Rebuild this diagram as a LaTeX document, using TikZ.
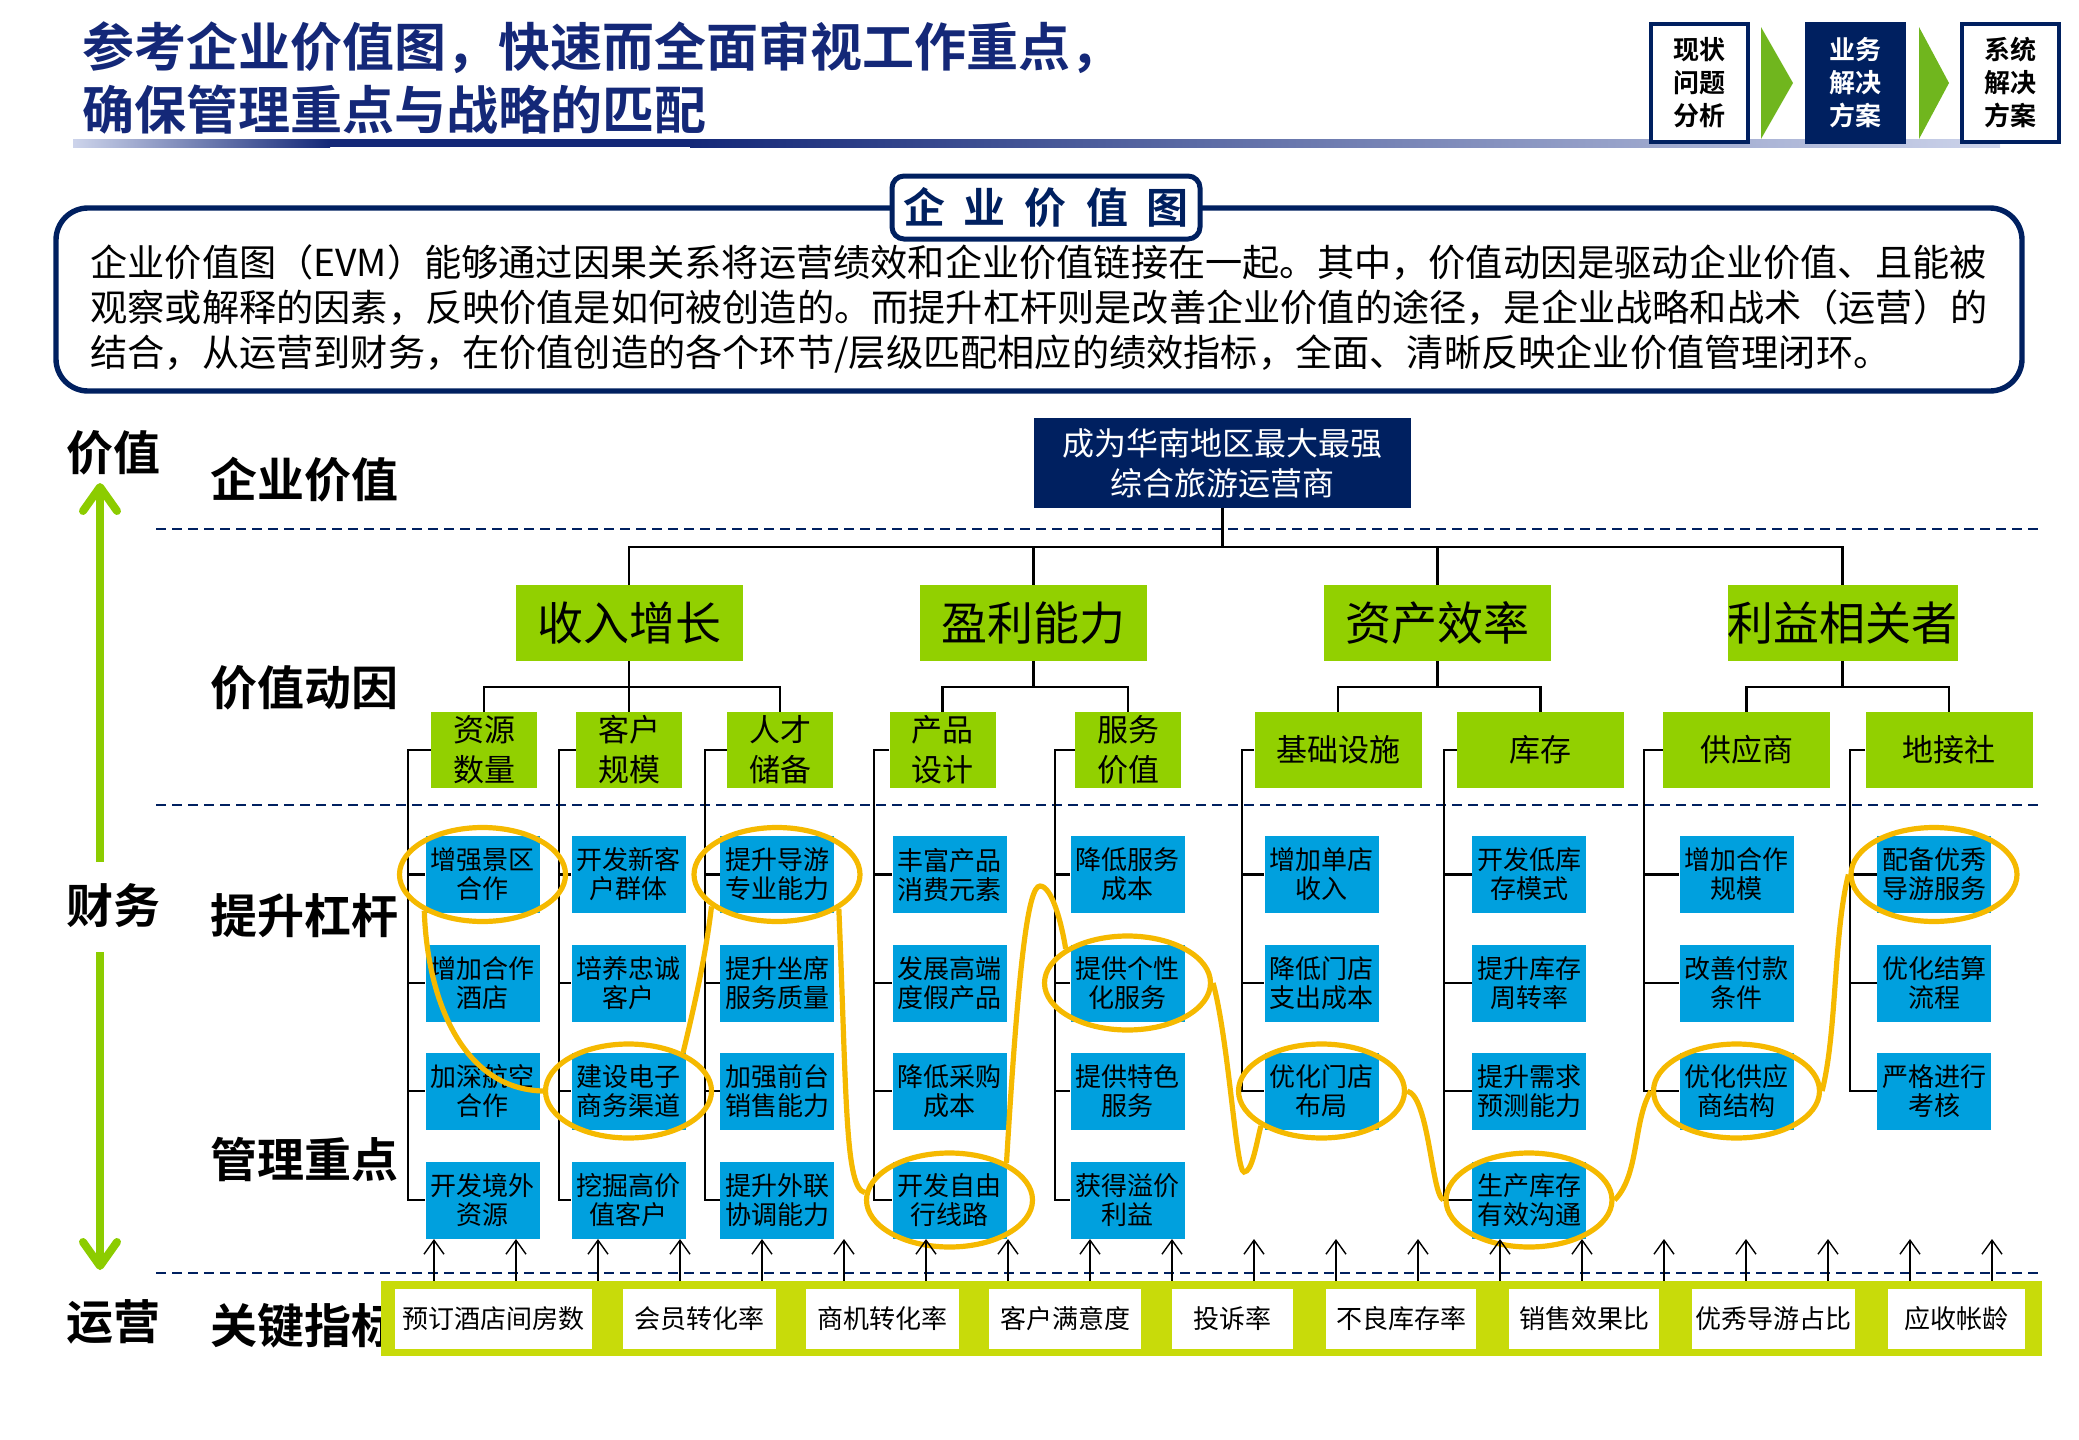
\documentclass[tikz,border=0pt]{standalone}
\usepackage{fontspec}
\setmainfont{Noto Sans CJK SC}[BoldFont={Noto Sans CJK SC Bold}]
\usetikzlibrary{arrows.meta,shapes.geometric,calc}
\definecolor{evmnavy}{RGB}{0,32,96}
\definecolor{evmtitle}{RGB}{20,40,120}
\definecolor{evmfade}{RGB}{205,212,235}
\definecolor{evmgreen}{RGB}{146,208,0}
\definecolor{evmlime}{RGB}{140,204,0}
\definecolor{evmchev}{RGB}{112,182,30}
\definecolor{evmbar}{RGB}{200,219,10}
\definecolor{evmblue}{RGB}{0,160,222}
\definecolor{evmgold}{RGB}{245,185,0}

\begin{document}
\begin{tikzpicture}[x=0.5pt, y=-0.5pt,
  headline/.style={font=\bfseries\fontsize{26pt}{31.5pt}\selectfont, text=evmtitle, align=left, anchor=west, inner sep=0pt},
  badge/.style={draw=evmnavy, line width=2pt, minimum width=48.5pt, minimum height=59pt, inner sep=0pt, align=center, font=\bfseries\fontsize{13pt}{16.5pt}\selectfont},
  rowlabel/.style={font=\bfseries\fontsize{23.5pt}{28pt}\selectfont, inner sep=0pt},
  goalbox/.style={fill=evmnavy, text=white, minimum width=188.5pt, minimum height=45pt, align=center, font=\fontsize{16pt}{20pt}\selectfont},
  driver/.style={fill=evmgreen, minimum width=113.5pt, minimum height=38pt, inner sep=0pt, font=\fontsize{23pt}{28pt}\selectfont},
  subdriver/.style={fill=evmgreen, minimum width=53pt, minimum height=38pt, inner sep=0pt, align=center, font=\fontsize{15.5pt}{20pt}\selectfont},
  widedriver/.style={subdriver, minimum width=83.5pt},
  lever/.style={fill=evmblue, minimum width=57pt, minimum height=38.5pt, inner sep=0pt, align=center, font=\fontsize{13pt}{14.5pt}\selectfont},
  kpi/.style={fill=white, minimum height=30pt, inner sep=0pt, font=\fontsize{13pt}{16pt}\selectfont},
  pick/.style={ellipse, draw=evmgold, line width=2.6pt, minimum width=83pt, minimum height=47pt, inner sep=0pt},
  wave/.style={draw=evmgold, line width=2.6pt},
  treeline/.style={draw=black, line width=1.1pt},
  dashrule/.style={draw=evmnavy, line width=1.2pt, dash pattern=on 5pt off 3pt},
  finarrow/.style={draw=evmlime, line width=4pt, -{Straight Barb[length=12pt,width=17pt,round]}},
  kpiarrow/.style={line width=0.7pt, -{Straight Barb[length=7pt,width=10pt]}}
]
\useasboundingbox (0,0) rectangle (2079,1440);

% title and steps
\node[headline] (title) at (82,77.5) {参考企业价值图，快速而全面审视工作重点，\\确保管理重点与战略的匹配};
\shade[left color=evmfade, right color=evmtitle] (73,139) rectangle (330,147);
\fill[evmtitle] (330,139) rectangle (690,147);
\shade[left color=evmtitle, right color=evmfade] (690,139) rectangle (2000,147);
\node[badge, fill=white] (step1) at (1699.5,83) {现状\\问题\\分析};
\node[badge, fill=evmnavy, text=white] (step2) at (1855.5,83) {业务\\解决\\方案};
\node[badge, fill=white] (step3) at (2010,83) {系统\\解决\\方案};
\fill[evmchev] (1761,27) -- (1793,83) -- (1761,139) -- cycle;
\fill[evmchev] (1919,27) -- (1949,83) -- (1919,139) -- cycle;

% definition box
\draw[evmnavy, line width=2.7pt, rounded corners=16pt] (56,208) rectangle (2022,391);
\node[draw=evmnavy, line width=2.5pt, fill=white, rounded corners=6pt, minimum width=154pt, minimum height=31.5pt, font=\bfseries\fontsize{21pt}{24pt}\selectfont, text=evmnavy] (evmhead) at (1046,207.5) {企\hspace{9.5pt}业\hspace{9.5pt}价\hspace{9.5pt}值\hspace{9.5pt}图};
\node[anchor=west, align=left, inner sep=0pt, font=\fontsize{18.6pt}{22.5pt}\selectfont] (evmtext) at (90,309) {企业价值图（EVM）能够通过因果关系将运营绩效和企业价值链接在一起。其中，价值动因是驱动企业价值、且能被\\观察或解释的因素，反映价值是如何被创造的。而提升杠杆则是改善企业价值的途径，是企业战略和战术（运营）的\\结合，从运营到财务，在价值创造的各个环节/层级匹配相应的绩效指标，全面、清晰反映企业价值管理闭环。};

% layers
\draw[dashrule] (156,529) -- (2042,529);
\draw[dashrule] (156,805) -- (2042,805);
\draw[dashrule] (156,1273) -- (2042,1273);
\node[rowlabel] (lvalue) at (113,453) {价值};
\node[rowlabel] (lfin) at (113,906) {财务};
\node[rowlabel] (lops) at (113,1322) {运营};
\coordinate (armtop) at (100,483);
\coordinate (armup) at (100,862);
\coordinate (armdown) at (100,952);
\coordinate (armbot) at (100,1270);
\draw[finarrow] (armup) -- (armtop);
\draw[finarrow] (armdown) -- (armbot);
\node[rowlabel, anchor=west] (lgoal) at (210,480) {企业价值};
\node[rowlabel, anchor=west] (ldriver) at (210,688) {价值动因};
\node[rowlabel, anchor=west] (llever) at (210,916) {提升杠杆};
\node[rowlabel, anchor=west] (lfocus) at (210,1159) {管理重点};
\node[rowlabel, anchor=west] (lkpi) at (210,1326) {关键指标};

% value tree
\node[goalbox] (goal) at (1222.5,463) {成为华南地区最大最强\\综合旅游运营商};
\node[driver] (rev) at (629,623) {收入增长};
\node[driver] (prof) at (1033.5,623) {盈利能力};
\node[driver] (asset) at (1437.5,623) {资产效率};
\node[driver] (stake) at (1842.5,623) {利益相关者};
\coordinate (hub) at (1222.5,547);
\draw[treeline] (goal.south) -- (hub);
\draw[treeline] (rev.north) |- (hub) -| (stake.north);
\draw[treeline] (prof.north) -- (prof.north |- hub);
\draw[treeline] (asset.north) -- (asset.north |- hub);

\node[subdriver] (res) at (484,750) {资源\\数量};
\node[subdriver] (cus) at (629,750) {客户\\规模};
\node[subdriver] (tal) at (780,750) {人才\\储备};
\node[subdriver] (prd) at (942.5,750) {产品\\设计};
\node[subdriver] (svc) at (1128,750) {服务\\价值};
\node[widedriver] (inf) at (1338,750) {基础设施};
\node[widedriver] (inv) at (1540.5,750) {库存};
\node[widedriver] (sup) at (1746.5,750) {供应商};
\node[widedriver] (agn) at (1949,750) {地接社};
\draw[treeline] (res.north) -- ++(0,-25) -| (tal.north);
\draw[treeline] (rev.south) -- (cus.north);
\draw[treeline] (prd.north) -- ++(0,-25) -| (svc.north);
\draw[treeline] (prof.south) -- ++(0,26);
\draw[treeline] (inf.north) -- ++(0,-25) -| (inv.north);
\draw[treeline] (asset.south) -- ++(0,26);
\draw[treeline] (sup.north) -- ++(0,-25) -| (agn.north);
\draw[treeline] (stake.south) -- ++(0,26);

% levers and focus points
\node[lever] (res1) at (482.5,874.5) {增强景区\\合作};
\node[lever] (res2) at (482.5,983) {增加合作\\酒店};
\node[lever] (res3) at (482.5,1091) {加深航空\\合作};
\node[lever] (res4) at (482.5,1200) {开发境外\\资源};
\node[lever] (cus1) at (628.5,874.5) {开发新客\\户群体};
\node[lever] (cus2) at (628.5,983) {培养忠诚\\客户};
\node[lever] (cus3) at (628.5,1091) {建设电子\\商务渠道};
\node[lever] (cus4) at (628.5,1200) {挖掘高价\\值客户};
\node[lever] (tal1) at (777,874.5) {提升导游\\专业能力};
\node[lever] (tal2) at (777,983) {提升坐席\\服务质量};
\node[lever] (tal3) at (777,1091) {加强前台\\销售能力};
\node[lever] (tal4) at (777,1200) {提升外联\\协调能力};
\node[lever] (prd1) at (949.5,874.5) {丰富产品\\消费元素};
\node[lever] (prd2) at (949.5,983) {发展高端\\度假产品};
\node[lever] (prd3) at (949.5,1091) {降低采购\\成本};
\node[lever] (prd4) at (949.5,1200) {开发自由\\行线路};
\node[lever] (svc1) at (1127.5,874.5) {降低服务\\成本};
\node[lever] (svc2) at (1127.5,983) {提供个性\\化服务};
\node[lever] (svc3) at (1127.5,1091) {提供特色\\服务};
\node[lever] (svc4) at (1127.5,1200) {获得溢价\\利益};
\node[lever] (inf1) at (1321.5,874.5) {增加单店\\收入};
\node[lever] (inf2) at (1321.5,983) {降低门店\\支出成本};
\node[lever] (inf3) at (1321.5,1091) {优化门店\\布局};
\node[lever] (inv1) at (1529,874.5) {开发低库\\存模式};
\node[lever] (inv2) at (1529,983) {提升库存\\周转率};
\node[lever] (inv3) at (1529,1091) {提升需求\\预测能力};
\node[lever] (inv4) at (1529,1200) {生产库存\\有效沟通};
\node[lever] (sup1) at (1736.5,874.5) {增加合作\\规模};
\node[lever] (sup2) at (1736.5,983) {改善付款\\条件};
\node[lever] (sup3) at (1736.5,1091) {优化供应\\商结构};
\node[lever] (agn1) at (1934,874.5) {配备优秀\\导游服务};
\node[lever] (agn2) at (1934,983) {优化结算\\流程};
\node[lever] (agn3) at (1934,1091) {严格进行\\考核};
\foreach \col/\bx/\last in {res/408/4, cus/559/4, tal/705/4, prd/874/4, svc/1055/4, inf/1242/3, inv/1444/4, sup/1644/3, agn/1850/3} {
  \draw[treeline] (\col.west) -| (\col\last.west -| \bx,0) -- (\col\last.west);
  \foreach \r in {1,...,\last} \draw[treeline] (\col\r.west -| \bx,0) -- (\col\r.west);
}

% highlighted focus path
\node[pick] (pick1) at (res1) {};
\node[pick] (pick2) at (cus3) {};
\node[pick] (pick3) at (tal1) {};
\node[pick] (pick4) at (prd4) {};
\node[pick] (pick5) at (svc2) {};
\node[pick] (pick6) at (inf3) {};
\node[pick] (pick7) at (inv4) {};
\node[pick] (pick8) at (sup3) {};
\node[pick] (pick9) at (agn1) {};
\coordinate (peak) at (1040,886);
\coordinate (dip) at (1244,1172);
\draw[wave] (pick1.212) .. controls +(3,90) and +(-80,-2) .. (pick2.west);
\draw[wave] (pick2.35) .. controls +(12,-50) and +(-6,50) .. (pick3.206);
\draw[wave] (pick3.331) .. controls +(8,193) and +(-20,-5) .. (pick4.175);
\draw[wave] (pick4.33) .. controls +(12,-200) and +(-12,0) .. (peak) .. controls +(12,0) and +(-4,-25) .. (pick5.151);
\draw[wave] (pick5.east) .. controls +(16,60) and +(-8,0) .. (dip) .. controls +(8,0) and +(-5,20) .. (pick6.210);
\draw[wave] (pick6.east) .. controls +(22,5) and +(-12,-5) .. (pick7.west);
\draw[wave] (pick7.east) .. controls +(25,-25) and +(-18,30) .. (pick8.west);
\draw[wave] (pick8.east) .. controls +(15,-60) and +(-15,60) .. (pick9.west);

% key indicators
\node[fill=evmbar, minimum width=830.5pt, minimum height=37.5pt, inner sep=0pt] (kpibar) at (1211.5,1318.5) {};
\node[kpi, minimum width=98.5pt] (k1) at (493.5,1319) {预订酒店间房数};
\node[kpi, minimum width=76.5pt] (k2) at (699.5,1319) {会员转化率};
\node[kpi, minimum width=76.5pt] (k3) at (882.5,1319) {商机转化率};
\node[kpi, minimum width=76pt] (k4) at (1065,1319) {客户满意度};
\node[kpi, minimum width=60.5pt] (k5) at (1232.5,1319) {投诉率};
\node[kpi, minimum width=75pt] (k6) at (1401,1319) {不良库存率};
\node[kpi, minimum width=75pt] (k7) at (1584,1319) {销售效果比};
\node[kpi, minimum width=81.5pt] (k8) at (1773.5,1319) {优秀导游占比};
\node[kpi, minimum width=68.5pt] (k9) at (1956.5,1319) {应收帐龄};
\foreach \i in {0,...,19} {
  \coordinate (kup\i) at ({434+82*\i},1239);
  \draw[kpiarrow] (kup\i |- kpibar.north) -- (kup\i);
}
\end{tikzpicture}
\end{document}
